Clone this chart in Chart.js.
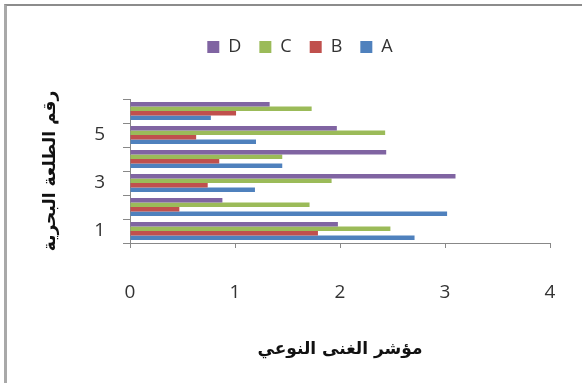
<html>
<head>
<meta charset="utf-8">
<script src="https://cdn.jsdelivr.net/npm/chart.js"></script>
<style>
  body { margin: 0; background: #fff; }
  #wrap { position: relative; width: 582px; height: 383px; }
  #frame {
    position: absolute; left: 4px; top: 4px; width: 578px; height: 377px;
    border-top: 2px solid #8c8c8c; border-left: 3px solid #a9a9a9;
    border-bottom: 1px solid #dedede; pointer-events: none;
  }
</style>
</head>
<body>
<div id="wrap">
  <canvas id="chart" width="582" height="383"></canvas>
  <div id="frame"></div>
</div>
<script>
  // Dive numbers (categories) and the species richness index per station
  const trips = ['1', '2', '3', '4', '5', '6'];
  const seriesA = [2.71, 3.02, 1.19, 1.45, 1.20, 0.77];
  const seriesB = [1.79, 0.47, 0.74, 0.85, 0.63, 1.01];
  const seriesC = [2.48, 1.71, 1.92, 1.45, 2.43, 1.73];
  const seriesD = [1.98, 0.88, 3.10, 2.44, 1.97, 1.33];
  const xTicks = [0, 1, 2, 3, 4];

  const tickFont = { family: 'Open Sans', size: 19 };
  const titleFont = { family: 'DejaVu Sans', size: 17, weight: 'bold' };

  // push the plot area down below the legend, and nudge the legend right
  const legendGap = {
    id: 'legendGap',
    beforeLayout(chart) {
      const lg = chart.legend;
      if (!lg || lg._gapPatched) return;
      const fit = lg.fit;
      lg.fit = function () { fit.call(this); this.height = 79; };
      lg._gapPatched = true;
    },
    afterLayout(chart) {
      const lg = chart.legend;
      if (!lg) return;
      lg.left += 25;
      lg.right += 25;
    }
  };

  const ds = (label, data, color) => ({
    label, data, backgroundColor: color, borderWidth: 0,
    categoryPercentage: 0.74, barPercentage: 1
  });

  new Chart(document.getElementById('chart'), {
    type: 'bar',
    data: {
      labels: trips,
      datasets: [
        ds('D', seriesD, '#8064a2'),
        ds('C', seriesC, '#9bbb59'),
        ds('B', seriesB, '#c0504d'),
        ds('A', seriesA, '#4f81bd')
      ]
    },
    plugins: [legendGap],
    options: {
      indexAxis: 'y',
      responsive: false,
      animation: false,
      layout: { padding: { top: 20, right: 32, bottom: 0, left: 0 } },
      plugins: {
        tooltip: { enabled: false },
        legend: {
          labels: {
            boxWidth: 12, boxHeight: 12, padding: 18,
            color: '#333', font: { family: 'Open Sans', size: 18 }
          }
        }
      },
      scales: {
        x: {
          min: 0, max: 4,
          afterBuildTicks(scale) { scale.ticks = xTicks.map(v => ({ value: v })); },
          afterFit(scale) {
            scale.height = 140;
            scale.paddingLeft = 0;
            scale.paddingRight = 0;
          },
          grid: { drawOnChartArea: false, tickLength: 5, color: '#888' },
          border: { color: '#888' },
          ticks: { color: '#333', font: tickFont, padding: 33 },
          title: {
            display: true, text: 'مؤشر الغنى النوعي', color: '#111',
            font: titleFont, padding: { top: 0, bottom: 23 }
          }
        },
        y: {
          reverse: true,
          afterFit(scale) { scale.width = 130; },
          grid: { drawOnChartArea: false, offset: true, tickLength: 7, color: '#888' },
          border: { color: '#888' },
          ticks: {
            color: '#333', font: tickFont, padding: 18, autoSkip: false,
            callback(v, i) { return i % 2 === 0 ? this.getLabelForValue(v) : ''; }
          },
          title: {
            display: true, text: 'رقم الطلعة البحرية', color: '#111',
            font: titleFont, padding: { top: 40, bottom: 0 }
          }
        }
      }
    }
  });
</script>
</body>
</html>
